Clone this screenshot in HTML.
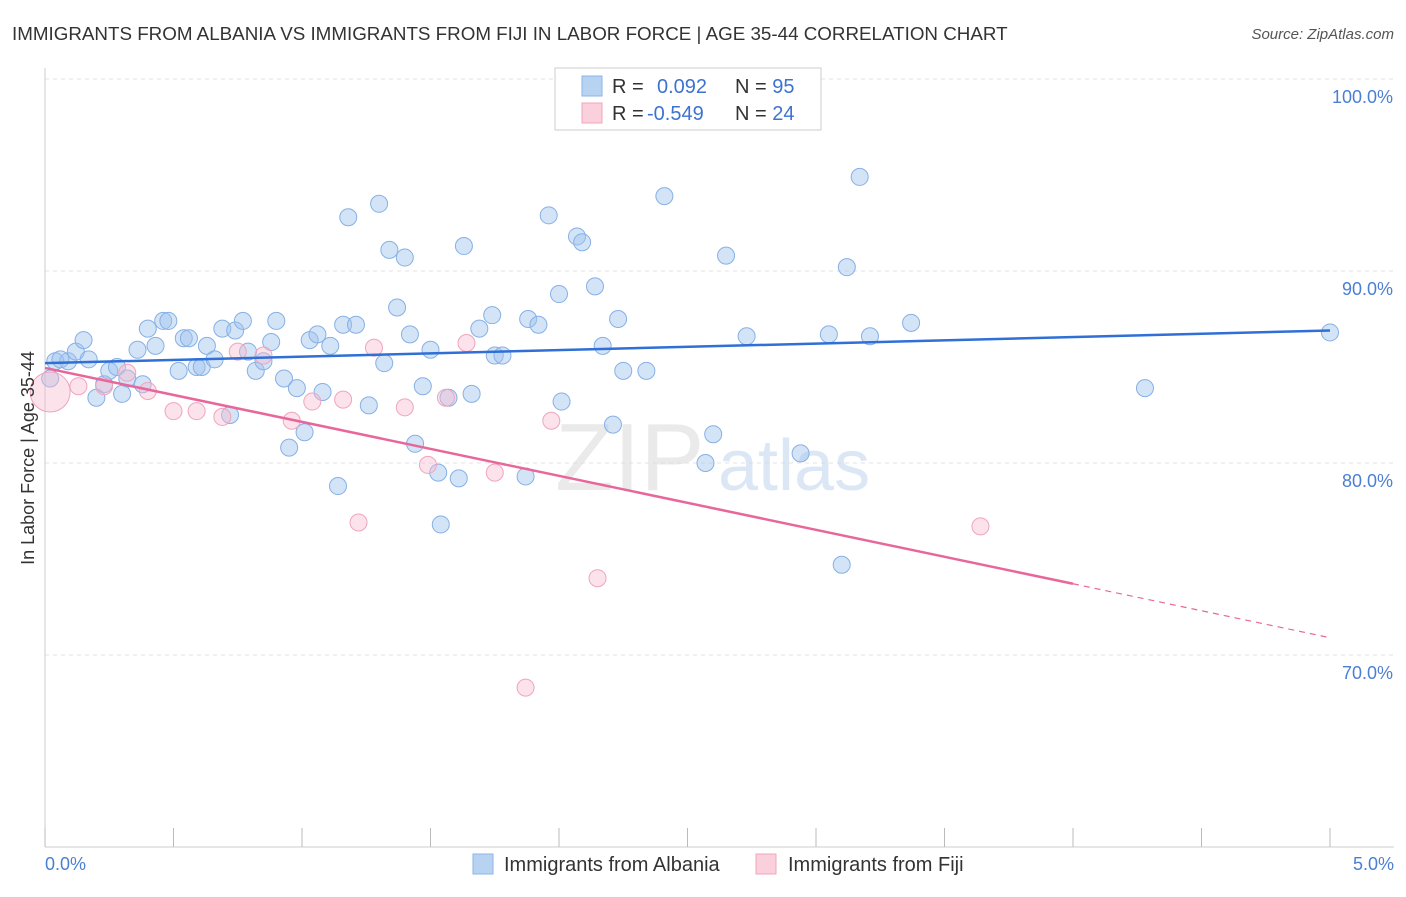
<!DOCTYPE html>
<html><head><meta charset="utf-8"><style>
body{margin:0;background:#fff;font-family:"Liberation Sans",sans-serif;}
svg text{font-family:"Liberation Sans",sans-serif;}
</style></head><body>
<svg id="chart" width="1406" height="892">
<text x="12" y="40" font-size="18.8" fill="#333">IMMIGRANTS FROM ALBANIA VS IMMIGRANTS FROM FIJI IN LABOR FORCE | AGE 35-44 CORRELATION CHART</text>
<text x="1394" y="39" font-size="15" fill="#555" font-style="italic" text-anchor="end">Source: ZipAtlas.com</text>
<g id="grid"></g>
<text x="555" y="490" font-size="96" fill="#ddd" font-family="Liberation Serif" opacity="0.6">ZIP</text>
<text x="718" y="490" font-size="72" fill="#c5d8ef" opacity="0.6">atlas</text>
<g id="marks"></g>
<text transform="translate(34,458) rotate(-90)" font-size="18" fill="#333" text-anchor="middle">In Labor Force | Age 35-44</text>
<text x="45" y="870" font-size="18" fill="#4a7fd4">0.0%</text>
<text x="1394" y="870" font-size="18" fill="#4a7fd4" text-anchor="end">5.0%</text>
<g>
<rect x="555" y="68" width="266" height="62" fill="#fff" stroke="#ccc"/>
<rect x="582" y="76" width="20" height="20" fill="#b8d2f2" stroke="#8ab4e8"/>
<rect x="582" y="103" width="20" height="20" fill="#fbd0dd" stroke="#f0a5bd"/>
<text x="612" y="93" font-size="20" fill="#333">R =</text>
<text x="657" y="93" font-size="20" fill="#3d73d0">0.092</text>
<text x="735" y="93" font-size="20" fill="#333">N = <tspan fill="#3d73d0">95</tspan></text>
<text x="612" y="120" font-size="20" fill="#333">R =</text>
<text x="647" y="120" font-size="20" fill="#3d73d0">-0.549</text>
<text x="735" y="120" font-size="20" fill="#333">N = <tspan fill="#3d73d0">24</tspan></text>
</g>
<g>
<rect x="473" y="854" width="20" height="20" fill="#b8d2f2" stroke="#8ab4e8"/>
<text x="504" y="871" font-size="20" fill="#333">Immigrants from Albania</text>
<rect x="756" y="854" width="20" height="20" fill="#fbd0dd" stroke="#f0a5bd"/>
<text x="788" y="871" font-size="20" fill="#333">Immigrants from Fiji</text>
</g>
</svg>
<script>
const yTicks=[100,90,80,70];
const yTickLabels=["100.0%","90.0%","80.0%","70.0%"];
const xTicks=[0,0.5,1,1.5,2,2.5,3,3.5,4,4.5,5];
const albaniaX=[0.04,0.09,0.06,0.12,0.15,0.17,0.02,0.20,0.23,0.25,0.28,0.30,0.32,0.36,0.38,0.40,0.43,0.46,0.48,0.52,0.54,0.56,0.59,0.61,0.63,0.66,0.69,0.72,0.74,0.77,0.79,0.82,0.85,0.88,0.90,0.93,0.95,0.98,1.01,1.03,1.06,1.08,1.11,1.14,1.16,1.18,1.21,1.26,1.30,1.32,1.34,1.37,1.40,1.42,1.44,1.47,1.50,1.53,1.54,1.57,1.61,1.63,1.66,1.69,1.74,1.75,1.78,1.87,1.88,1.92,1.96,2.00,2.01,2.07,2.09,2.14,2.17,2.21,2.23,2.25,2.34,2.41,2.57,2.60,2.65,2.73,2.94,3.05,3.10,3.12,3.17,3.21,3.37,4.28,5.00];
const albaniaY=[85.3,85.3,85.4,85.8,86.4,85.4,84.4,83.4,84.1,84.8,85.0,83.6,84.4,85.9,84.1,87.0,86.1,87.4,87.4,84.8,86.5,86.5,85.0,85.0,86.1,85.4,87.0,82.5,86.9,87.4,85.8,84.8,85.3,86.3,87.4,84.4,80.8,83.9,81.6,86.4,86.7,83.7,86.1,78.8,87.2,92.8,87.2,83.0,93.5,85.2,91.1,88.1,90.7,86.7,81.0,84.0,85.9,79.5,76.8,83.4,79.2,91.3,83.6,87.0,87.7,85.6,85.6,79.3,87.5,87.2,92.9,88.8,83.2,91.8,91.5,89.2,86.1,82.0,87.5,84.8,84.8,93.9,80.0,81.5,90.8,86.6,80.5,86.7,74.7,90.2,94.9,86.6,87.3,83.9,86.8];
const fijiX=[0.02,0.13,0.23,0.32,0.40,0.50,0.59,0.69,0.75,0.85,0.96,1.04,1.16,1.22,1.28,1.40,1.49,1.56,1.64,1.75,1.87,1.97,2.15,3.64];
const fijiY=[83.7,84.0,84.0,84.7,83.75,82.7,82.7,82.4,85.8,85.6,82.2,83.2,83.3,76.9,86.0,82.9,79.9,83.4,86.25,79.5,68.3,82.2,74.0,76.7];
const albaniaTrend=[85.2,86.9];
const fijiTrend=[84.95,70.9];
const fijiSolidEnd=4.0;

const X0=45,X1=1330,Y0=79,Y1=847,NS="http://www.w3.org/2000/svg";
const sx=v=>X0+(v-0)/5*(X1-X0);
const sy=v=>Y0+(100-v)/40*(Y1-Y0);
function mk(tag,attrs,parent){const e=document.createElementNS(NS,tag);for(const k in attrs)e.setAttribute(k,attrs[k]);parent.appendChild(e);return e;}
const grid=document.getElementById('grid'),marks=document.getElementById('marks');
yTicks.forEach((t,i)=>{
 const l=mk('line',{x1:X0,x2:1394,y1:sy(t),y2:sy(t),stroke:'#e3e3e3','stroke-dasharray':'4,4'},grid);
 
 
 const tx=mk('text',{x:1393,y:sy(t)+24,'font-size':18,fill:'#4a7fd4','text-anchor':'end'},grid);
 tx.textContent=yTickLabels[i];
 
 
});
const ax=mk('line',{x1:X0,x2:X0,y1:68,y2:Y1,stroke:'#ccc'},grid);


const bx=mk('line',{x1:X0,x2:1394,y1:Y1,y2:Y1,stroke:'#ccc'},grid);


xTicks.forEach(t=>{
 const l=mk('line',{x1:sx(t),x2:sx(t),y1:828,y2:Y1,stroke:'#bbb'},grid);
 
 
});
albaniaX.forEach((v,i)=>{
 const c=mk('circle',{cx:sx(v),cy:sy(albaniaY[i]),r:8.5,fill:'rgba(160,195,238,0.45)',stroke:'#86b0e6','stroke-width':1},marks);
 
 
});
fijiX.forEach((v,i)=>{
 const c=mk('circle',{cx:sx(v),cy:sy(fijiY[i]),r:i===0?20:8.5,fill:'rgba(247,185,205,0.42)',stroke:'#f0a5bd','stroke-width':1},marks);
 
 
});
const bl=mk('line',{x1:sx(0),y1:sy(albaniaTrend[0]),x2:sx(5),y2:sy(albaniaTrend[1]),stroke:'#2f6fd6','stroke-width':2.5},marks);


const fAt=x=>fijiTrend[0]+(fijiTrend[1]-fijiTrend[0])*x/5;
const pl=mk('line',{x1:sx(0),y1:sy(fAt(0)),x2:sx(fijiSolidEnd),y2:sy(fAt(fijiSolidEnd)),stroke:'#e8679a','stroke-width':2.5},marks);


const pd=mk('line',{x1:sx(fijiSolidEnd),y1:sy(fAt(fijiSolidEnd)),x2:sx(5),y2:sy(fAt(5)),stroke:'#e8679a','stroke-width':1.2,'stroke-dasharray':'6,5'},marks);


</script>
</body></html>
